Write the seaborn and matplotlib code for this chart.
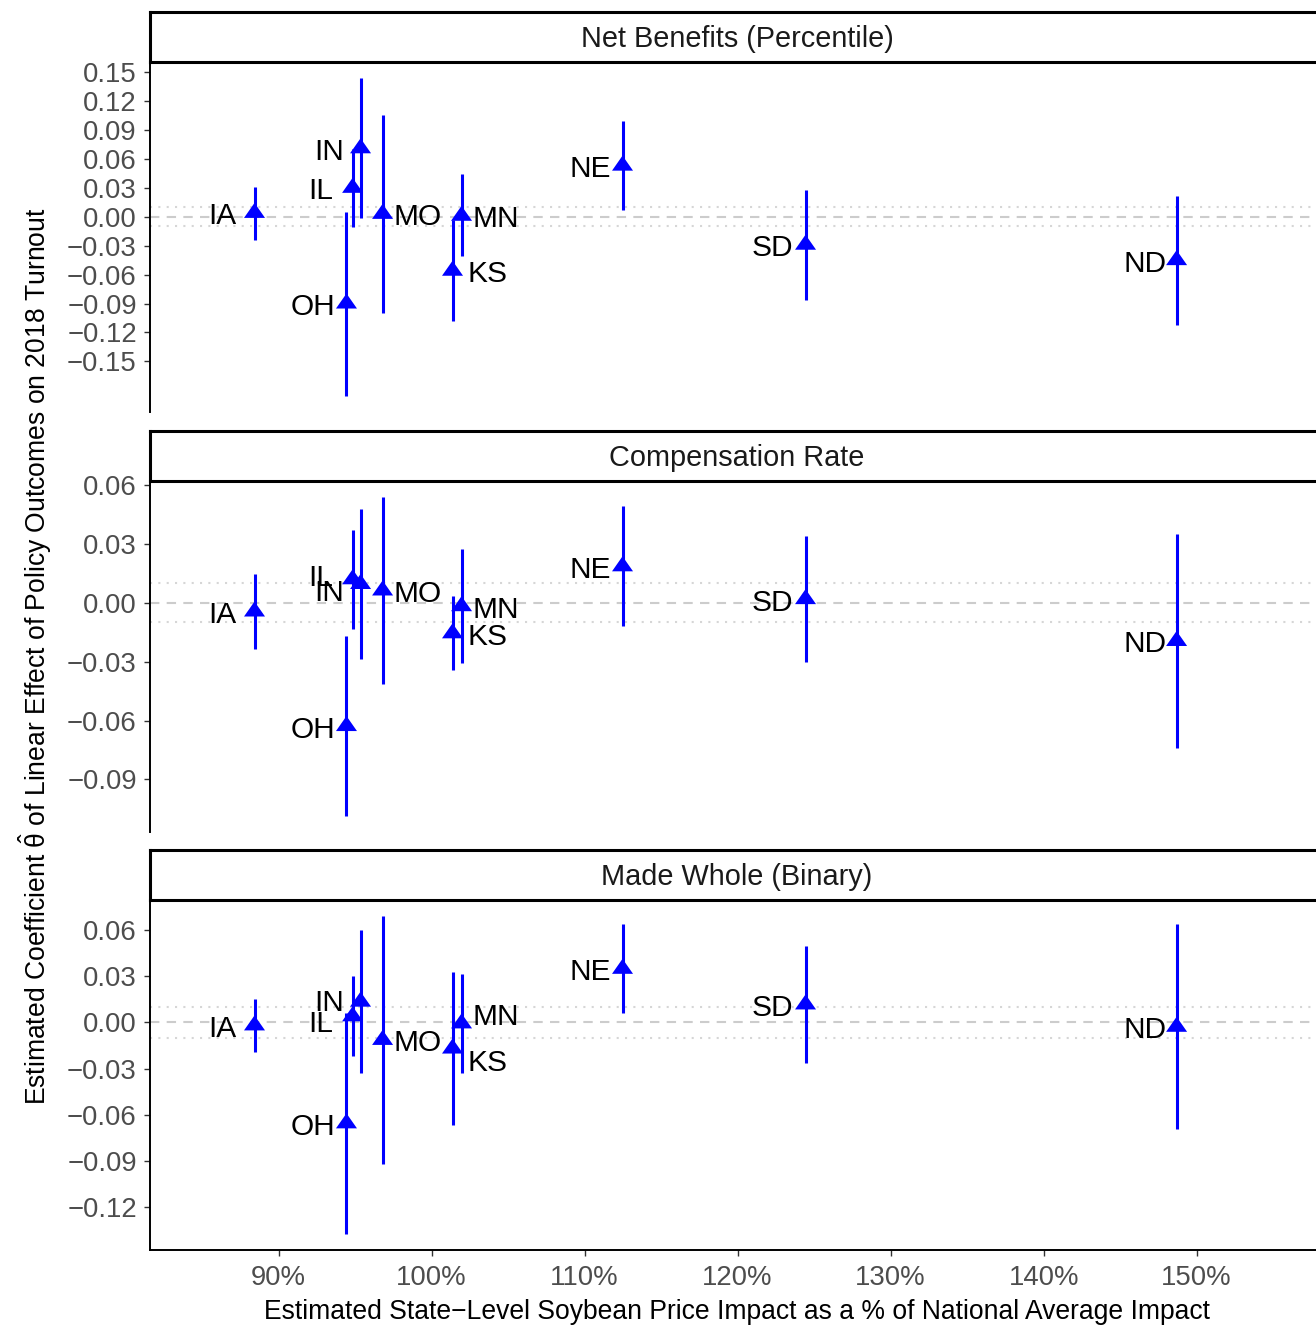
import numpy as np
import pandas as pd
import matplotlib
matplotlib.use("Agg")
import matplotlib.pyplot as plt
import seaborn as sns
from matplotlib.path import Path
from matplotlib.markers import MarkerStyle
from matplotlib.transforms import offset_copy
from matplotlib.ticker import FixedLocator, FuncFormatter

# ---------------- data ----------------
states = ["IA", "OH", "IL", "IN", "MO", "KS", "MN", "NE", "SD", "ND"]
impact_pct = [88.43, 94.44, 94.84, 95.36, 96.80, 101.37, 101.96, 112.48, 124.44, 148.69]

panels = ["Net Benefits (Percentile)", "Compensation Rate", "Made Whole (Binary)"]

nb_est = [0.004, -0.090, 0.030, 0.071, 0.003, -0.056, 0.001, 0.053, -0.029, -0.045]
nb_lo = [-0.024, -0.186, -0.011, -0.001, -0.100, -0.108, -0.041, 0.007, -0.086, -0.112]
nb_hi = [0.031, 0.005, 0.070, 0.144, 0.106, -0.003, 0.044, 0.099, 0.028, 0.022]

cr_est = [-0.0045, -0.0628, 0.0119, 0.0095, 0.0062, -0.0156, -0.0018, 0.0185, 0.0018, -0.0195]
cr_lo = [-0.0235, -0.1086, -0.0132, -0.0288, -0.0413, -0.0344, -0.0309, -0.0121, -0.0304, -0.0739]
cr_hi = [0.0145, -0.0170, 0.0369, 0.0479, 0.0538, 0.0032, 0.0273, 0.0491, 0.0339, 0.0349]

mw_est = [-0.0020, -0.0655, 0.0039, 0.0134, -0.0114, -0.0170, -0.0007, 0.0347, 0.0116, -0.0029]
mw_lo = [-0.0195, -0.1373, -0.0220, -0.0330, -0.0917, -0.0668, -0.0330, 0.0058, -0.0263, -0.0694]
mw_hi = [0.0154, 0.0063, 0.0298, 0.0598, 0.0690, 0.0328, 0.0315, 0.0637, 0.0495, 0.0637]

y_ticks = [
    [-0.15, -0.12, -0.09, -0.06, -0.03, 0.00, 0.03, 0.06, 0.09, 0.12, 0.15],
    [-0.09, -0.06, -0.03, 0.00, 0.03, 0.06],
    [-0.12, -0.09, -0.06, -0.03, 0.00, 0.03, 0.06],
]
x_ticks = [90, 100, 110, 120, 130, 140, 150]

# ---------------- style ----------------
sns.set_style("white")
plt.rcParams["font.family"] = ["Liberation Sans", "DejaVu Sans"]
plt.rcParams["mathtext.fontset"] = "custom"
plt.rcParams["mathtext.rm"] = "Liberation Sans"
plt.rcParams["mathtext.it"] = "Liberation Sans"

W, H = 1316, 1325
fig = plt.figure(figsize=(W / 100, H / 100), dpi=100)

BLUE = "#0000FF"
TICK_GREY = "#4D4D4D"
TICK_FS = 19.8
LABEL_FS = 21.5
STRIP_FS = 20.8
TITLE_FS = 19.1

# label placement (style): side (-1 left / +1 right), horizontal gap px, vertical shift px
label_side = [-1, -1, -1, -1, 1, 1, 1, -1, -1, -1]
label_gap = [18, 11, 19, 17, 11, 15, 11, 12, 12, 10]
label_dy = [
    [0, 0, 0, 0, 0, 0, 0, 0, 0, 0],
    [0, 0, -5, 6, 0, 0, 0, 0, 0, 0],
    [0, 0, 4, -2, 0, 11, -10, 0, 0, 0],
]

# triangle marker, centroid-centered (like R pch 17)
tri = Path([(0, 10), (-10.5, -5), (10.5, -5), (0, 10)],
           [Path.MOVETO, Path.LINETO, Path.LINETO, Path.CLOSEPOLY])
tri_marker = MarkerStyle(tri)

panel_px = [(62, 412), (481, 832), (900, 1250)]
strip_px = [(12, 62), (431, 481), (850, 900)]
left_px = 150
XLIM = (81.6, 157.8)

data_sets = [(nb_est, nb_lo, nb_hi), (cr_est, cr_lo, cr_hi), (mw_est, mw_lo, mw_hi)]


def fy(px):
    return 1 - px / H


def fmt_y(v, pos):
    s = f"{v:.2f}"
    if s == "-0.00":
        s = "0.00"
    return s.replace("-", "\u2212")


for i, (title, (est, lo, hi)) in enumerate(zip(panels, data_sets)):
    top, bot = panel_px[i]
    ax = fig.add_axes([left_px / W, fy(bot), 1 - left_px / W, (bot - top) / H])
    df = pd.DataFrame({"state": states, "impact": impact_pct,
                       "est": est, "lo": lo, "hi": hi})

    # reference lines
    ax.axhline(0, color="#CCCCCC", lw=1.5, dashes=(4.5, 3.5), zorder=1)
    for r in (-0.01, 0.01):
        ax.axhline(r, color="#D6D6D6", lw=1.5, dashes=(1, 3), zorder=1)

    ax.vlines(df["impact"], df["lo"], df["hi"], color=BLUE, lw=2.2, zorder=2)
    sns.scatterplot(data=df, x="impact", y="est", marker=tri_marker, s=229,
                    color=BLUE, edgecolor="none", linewidth=0, ax=ax, zorder=3,
                    legend=False)

    # labels
    for j, row in df.iterrows():
        side = label_side[j]
        dx = side * label_gap[j]
        dy = -(label_dy[i][j] + 11.5)
        tr = offset_copy(ax.transData, fig=fig, x=dx, y=dy, units="dots")
        ax.text(row["impact"], row["est"], row["state"], transform=tr,
                ha="left" if side > 0 else "right", va="baseline",
                fontsize=LABEL_FS, color="black", zorder=4)

    # limits (5% expansion like ggplot)
    ymin, ymax = min(lo), max(hi)
    pad = 0.05 * (ymax - ymin)
    ax.set_ylim(ymin - pad, ymax + pad)
    ax.set_xlim(*XLIM)

    ax.yaxis.set_major_locator(FixedLocator(y_ticks[i]))
    ax.yaxis.set_major_formatter(FuncFormatter(fmt_y))
    ax.set_xticks(x_ticks)
    ax.set_xticklabels([f"{t}%" for t in x_ticks])
    ax.set_xlabel("")
    ax.set_ylabel("")

    for s in ("top", "right"):
        ax.spines[s].set_visible(False)
    ax.spines["left"].set_color("black")
    ax.spines["left"].set_linewidth(1.4)
    ax.tick_params(axis="y", which="major", left=True, length=4.5, width=1.0,
                   color="#333333", labelcolor=TICK_GREY, labelsize=TICK_FS, pad=5)
    if i < 2:
        ax.spines["bottom"].set_visible(False)
        ax.tick_params(axis="x", bottom=False, labelbottom=False)
    else:
        ax.spines["bottom"].set_color("black")
        ax.spines["bottom"].set_linewidth(1.4)
        ax.tick_params(axis="x", which="major", bottom=True, length=4.5, width=1.0,
                       color="#333333", labelcolor=TICK_GREY, labelsize=TICK_FS, pad=6)
    ax.set_facecolor("white")

    # strip
    st, sb = strip_px[i]
    sax = fig.add_axes([left_px / W, fy(sb), 1.02 - left_px / W, (sb - st) / H])
    sax.set_xticks([])
    sax.set_yticks([])
    sax.set_facecolor("white")
    for s in sax.spines.values():
        s.set_color("black")
        s.set_linewidth(2.2)
    fig.text(737 / W, fy((st + sb) / 2 + 2), title, ha="center", va="center",
             fontsize=STRIP_FS, color="#1A1A1A")

fig.text(737 / W, fy(1319), "Estimated State\u2212Level Soybean Price Impact as a % of National Average Impact",
         ha="center", va="baseline", fontsize=TITLE_FS, color="black")
fig.text(35 / W, fy(656),
         r"Estimated Coefficient $\hat{\mathrm{\theta}}$ of Linear Effect of Policy Outcomes on 2018 Turnout",
         ha="center", va="center", rotation=90, fontsize=TITLE_FS, color="black")

fig.savefig("out.png", dpi=100, facecolor="white")
